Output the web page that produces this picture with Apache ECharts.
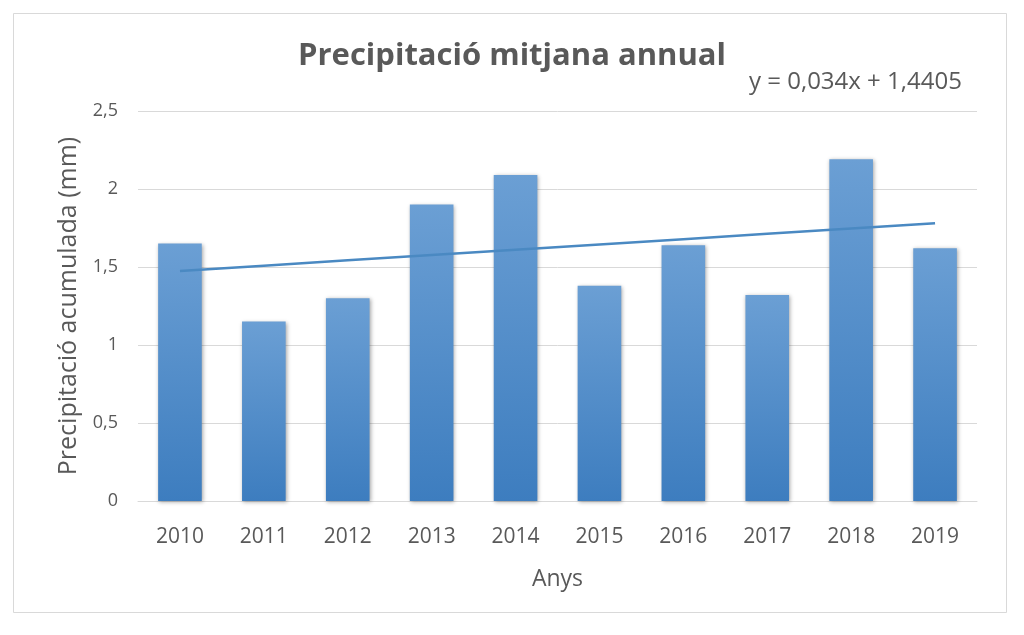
<!DOCTYPE html>
<html><head><meta charset="utf-8">
<script src="https://cdn.jsdelivr.net/npm/echarts@6/dist/echarts.min.js"></script>
<style>html,body{margin:0;padding:0;background:#fff}#c{width:1024px;height:635px}</style>
</head><body><div id="c"></div>
<script>
const years = ['2010','2011','2012','2013','2014','2015','2016','2017','2018','2019'];
const precip = [1.65, 1.15, 1.30, 1.90, 2.09, 1.38, 1.64, 1.32, 2.19, 1.62];
const trend = [1.4745, 1.5085, 1.5425, 1.5765, 1.6105, 1.6445, 1.6785, 1.7125, 1.7465, 1.7805];
const yTicks = ['0','0,5','1','1,5','2','2,5'];
const titleText = 'Precipitació mitjana annual';
const eqText = 'y = 0,034x + 1,4405';

const chart = echarts.init(document.getElementById('c'));
const font = 'Open Sans';
chart.setOption({
  backgroundColor: '#fff',
  animation: false,
  graphic: [
    {type:'rect', shape:{x:13.5,y:13.5,width:993,height:599}, style:{fill:'none', stroke:'#d9d9d9', lineWidth:1}, z:-1},
    {type:'text', left:749, top:70, style:{text:eqText, font:'24px "Open Sans"', fill:'#595959'}}
  ],
  title: {
    text: titleText, left: 'center', top: 36,
    textStyle: {fontFamily: font, fontWeight: 'bold', fontSize: 31, color: '#595959'}
  },
  grid: {left: 138, right: 47, top: 111, bottom: 134},
  xAxis: {
    type: 'category', data: years,
    axisLine: {lineStyle: {color: '#d9d9d9', width: 1}},
    axisTick: {show: false},
    axisLabel: {fontFamily: font, fontSize: 21, color: '#595959', margin: 26},
    name: 'Anys', nameLocation: 'middle', nameGap: 67,
    nameTextStyle: {fontFamily: font, fontSize: 23, color: '#595959'}
  },
  yAxis: {
    type: 'value', min: 0, max: 2.5, interval: 0.5,
    axisLine: {show: false}, axisTick: {show: false},
    splitLine: {lineStyle: {color: '#d9d9d9', width: 1}},
    axisLabel: {fontFamily: font, fontSize: 18, color: '#595959', margin: 20,
      formatter: v => yTicks[Math.round(v * 2)]},
    name: 'Precipitació acumulada (mm)', nameLocation: 'middle', nameGap: 57,
    nameTextStyle: {fontFamily: font, fontSize: 25, color: '#595959'}
  },
  series: [
    {
      type: 'bar', data: precip, barWidth: '52%',
      itemStyle: {
        color: new echarts.graphic.LinearGradient(0,0,0,1,[
          {offset:0, color:'#6b9fd4'}, {offset:1, color:'#3d7dbf'}
        ]),
        shadowBlur: 4, shadowColor: 'rgba(0,0,0,0.35)', shadowOffsetX: 1, shadowOffsetY: 1
      }
    },
    {
      type: 'line', data: trend, symbol: 'none', z: 5,
      lineStyle: {color: '#4a89c2', width: 2.5}
    }
  ]
});
</script></body></html>
